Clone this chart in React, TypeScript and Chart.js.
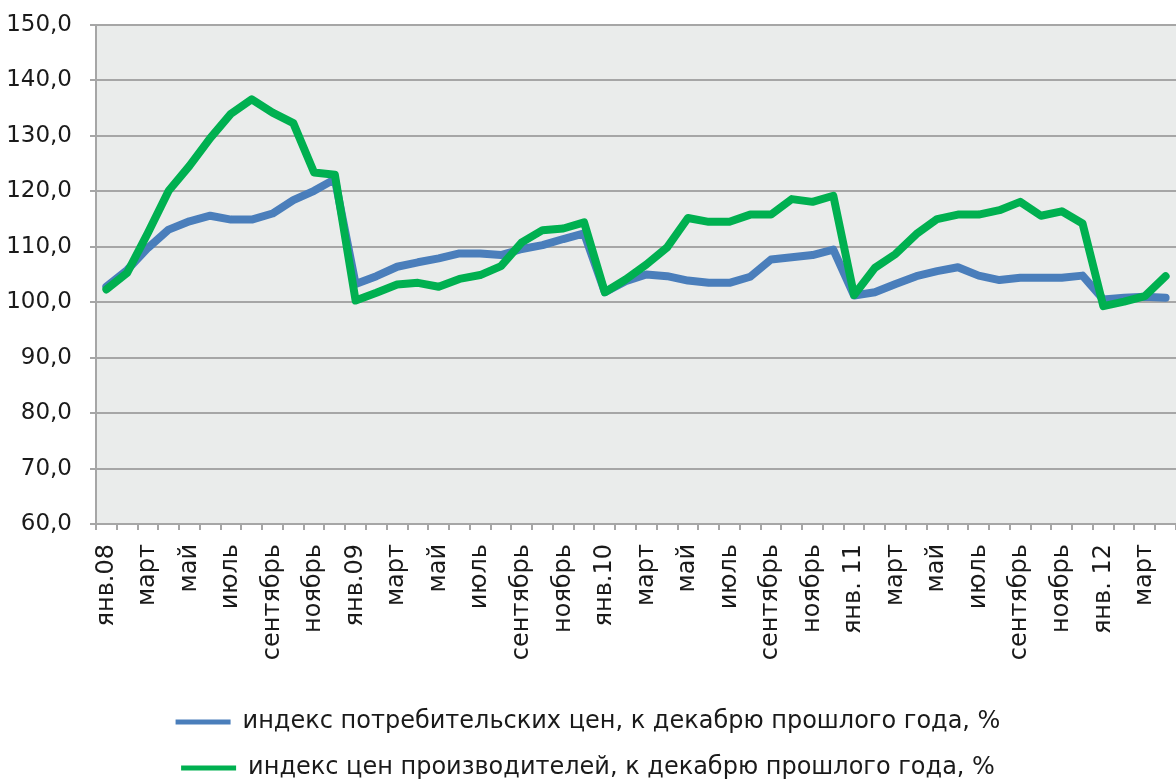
import React, { useEffect, useRef } from "react";
import { Chart, registerables } from "chart.js";

Chart.register(...registerables);

const tickLabels: string[] = [
  "янв.08", "", "март", "", "май", "", "июль", "", "сентябрь", "", "ноябрь", "",
  "янв.09", "", "март", "", "май", "", "июль", "", "сентябрь", "", "ноябрь", "",
  "янв.10", "", "март", "", "май", "", "июль", "", "сентябрь", "", "ноябрь", "",
  "янв. 11", "", "март", "", "май", "", "июль", "", "сентябрь", "", "ноябрь", "",
  "янв. 12", "", "март", "",
];

const cpiValues: number[] = [
  102.8, 105.8, 109.8, 113.1, 114.6, 115.6, 114.9, 114.9, 116.0, 118.4, 120.1, 122.2,
  103.3, 104.7, 106.4, 107.2, 107.9, 108.8, 108.8, 108.5, 109.6, 110.3, 111.4, 112.4,
  101.8, 103.8, 105.0, 104.7, 103.9, 103.5, 103.5, 104.6, 107.7, 108.1, 108.5, 109.5,
  101.2, 101.8, 103.3, 104.7, 105.6, 106.3, 104.8, 104.0, 104.4, 104.4, 104.4, 104.8,
  100.5, 100.8, 101.0, 100.8,
];

const ppiValues: number[] = [
  102.3, 105.3, 112.5, 120.1, 124.6, 129.6, 134.0, 136.6, 134.2, 132.3, 123.4, 123.0,
  100.3, 101.7, 103.2, 103.5, 102.8, 104.2, 104.9, 106.5, 110.8, 113.0, 113.3, 114.4,
  101.8, 104.1, 106.8, 109.9, 115.2, 114.5, 114.5, 115.8, 115.8, 118.6, 118.1, 119.2,
  101.3, 106.2, 108.7, 112.3, 115.0, 115.8, 115.8, 116.6, 118.1, 115.6, 116.4, 114.2,
  99.3, 100.1, 101.1, 104.7,
];

const seriesNames: string[] = [
  "индекс потребительских цен, к декабрю прошлого года, %",
  "индекс цен производителей, к декабрю прошлого года, %",
];

const yMin = 60;
const yMax = 150;
const yStep = 10;

const plotBg = {
  id: "plotBg",
  beforeDraw(chart: any) {
    const { ctx, chartArea } = chart;
    ctx.save();
    ctx.fillStyle = "#eaeceb";
    ctx.fillRect(chartArea.left, chartArea.top, chartArea.right - chartArea.left, chartArea.bottom - chartArea.top);
    ctx.restore();
  },
};

export default function App() {
  const canvasRef = useRef<HTMLCanvasElement | null>(null);

  useEffect(() => {
    if (!canvasRef.current) return;
    const chart = new Chart(canvasRef.current, {
      type: "line",
      data: {
        labels: tickLabels,
        datasets: [
          {
            label: seriesNames[0],
            data: cpiValues,
            borderColor: "#4a7ebb",
            backgroundColor: "#4a7ebb",
            borderWidth: 8,
            pointRadius: 0,
            borderCapStyle: "round",
            borderJoinStyle: "round",
            tension: 0,
            order: 2,
          },
          {
            label: seriesNames[1],
            data: ppiValues,
            borderColor: "#00b050",
            backgroundColor: "#00b050",
            borderWidth: 8,
            pointRadius: 0,
            borderCapStyle: "round",
            borderJoinStyle: "round",
            tension: 0,
            order: 1,
          },
        ],
      },
      options: {
        animation: false,
        responsive: true,
        maintainAspectRatio: false,
        layout: { padding: { top: 25, left: 0, right: 0, bottom: 0 } },
        plugins: {
          tooltip: { enabled: false },
          legend: {
            position: "bottom",
            labels: {
              boxWidth: 55,
              boxHeight: 5,
              padding: 22,
              color: "#1a1a1a",
              font: { family: "'DejaVu Sans'", size: 24 },
              generateLabels(chart: any) {
                return chart.data.datasets.map((ds: any, i: number) => ({
                  text: ds.label,
                  fillStyle: ds.borderColor,
                  strokeStyle: ds.borderColor,
                  lineWidth: 0,
                  hidden: false,
                  datasetIndex: i,
                  fontColor: "#1a1a1a",
                }));
              },
            },
          },
        },
        scales: {
          x: {
            offset: true,
            grid: {
              display: true,
              drawOnChartArea: false,
              drawTicks: true,
              tickLength: 6,
              offset: true,
              color: "#a6a6a6",
              lineWidth: 2,
            },
            border: { display: true, color: "#a6a6a6", width: 2 },
            ticks: {
              autoSkip: false,
              maxRotation: 90,
              minRotation: 90,
              padding: 14,
              color: "#1a1a1a",
              font: { family: "'DejaVu Sans'", size: 24 },
            },
            afterFit(scale: any) {
              scale.height = 164;
              scale.paddingLeft = 0;
              scale.paddingRight = 0;
            },
          },
          y: {
            min: yMin,
            max: yMax,
            grid: {
              color: "#a6a6a6",
              lineWidth: 2,
              tickLength: 6,
            },
            border: { display: true, color: "#a6a6a6", width: 2 },
            ticks: {
              stepSize: yStep,
              padding: 18,
              color: "#1a1a1a",
              font: { family: "'DejaVu Sans'", size: 23 },
              callback: (v: any) => Number(v).toFixed(1).replace(".", ","),
            },
            afterFit(scale: any) {
              scale.width = 96;
              scale.paddingTop = 0;
              scale.paddingBottom = 0;
            },
          },
        },
      },
      plugins: [plotBg],
    });
    return () => chart.destroy();
  }, []);

  return (
    <div style={{ position: "fixed", left: 0, top: 0, width: 1176, height: 790, background: "#fff" }}>
      <canvas ref={canvasRef} />
    </div>
  );
}
